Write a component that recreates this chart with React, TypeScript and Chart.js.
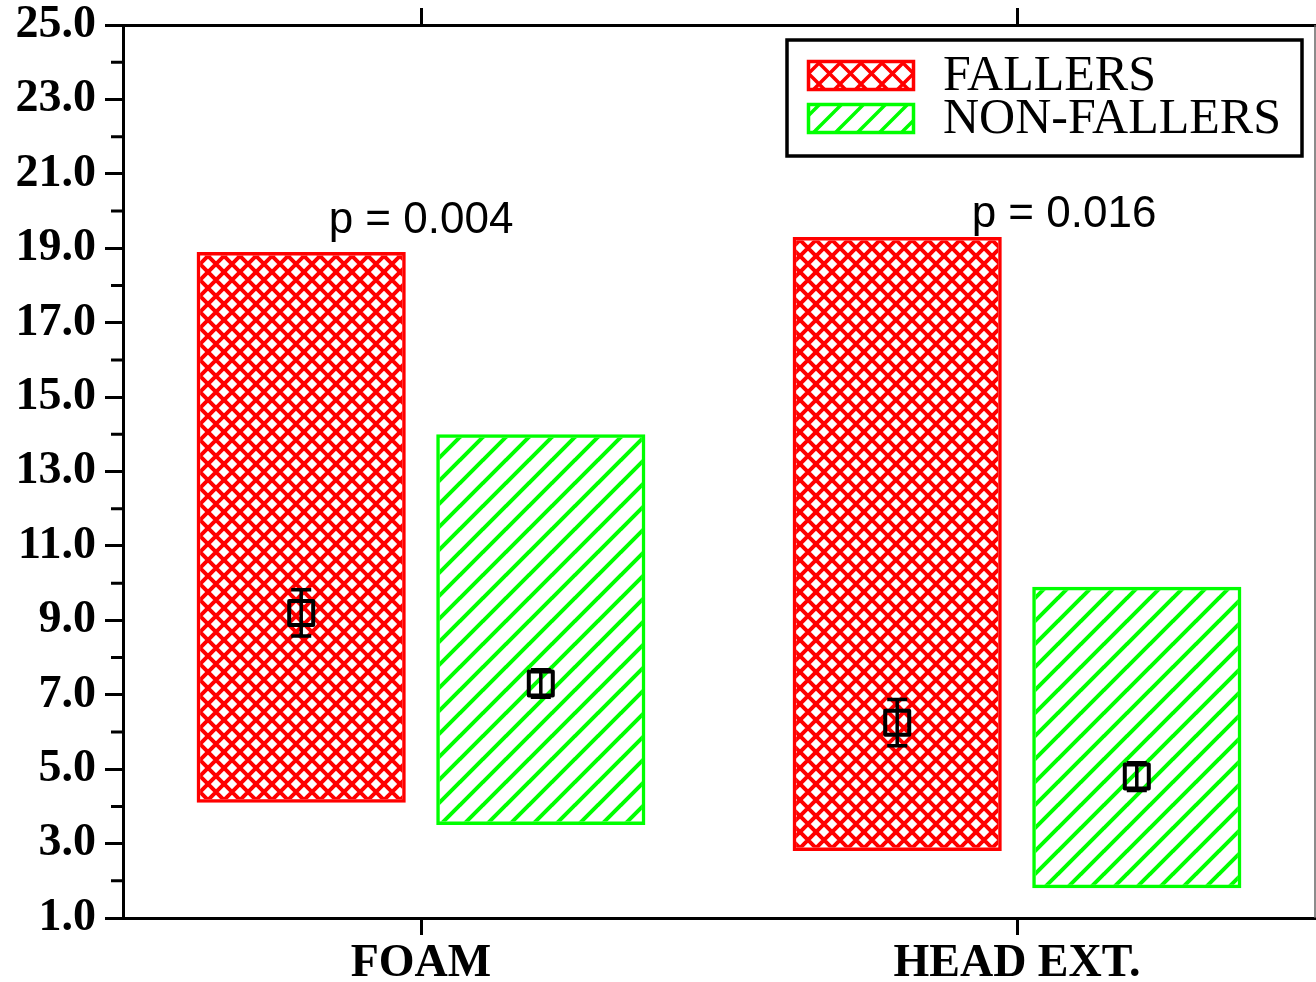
import React, { useEffect, useRef } from 'react';
import { Chart, registerables } from 'chart.js';

Chart.register(...registerables);

const categories = ['FOAM', 'HEAD EXT.'];
const seriesLabels = ['FALLERS', 'NON-FALLERS'];
const fallersMin = [4.1, 2.8];
const fallersMax = [18.9, 19.3];
const nonFallersMin = [3.5, 1.8];
const nonFallersMax = [14.0, 9.9];
const fallersMean = [9.2, 6.25];
const fallersErr = [0.62, 0.62];
const nonFallersMean = [7.3, 4.8];
const nonFallersErr = [0.37, 0.37];
const pLabels = ['p = 0.004', 'p = 0.016'];
const pLabelY = [19.74, 19.9];
const yMin = 1;
const yMax = 25;
const yStep = 2;

const RED = '#ff0000';
const GREEN = '#00ff00';

function crossPattern(s: number, color: string, lw: number) {
  const c = document.createElement('canvas');
  c.width = s;
  c.height = s;
  const g = c.getContext('2d')!;
  g.strokeStyle = color;
  g.lineWidth = lw;
  g.beginPath();
  for (const k of [-s, 0, s]) {
    g.moveTo(-1, -1 + k);
    g.lineTo(s + 1, s + 1 + k);
    g.moveTo(-1, s + 1 + k);
    g.lineTo(s + 1, -1 + k);
  }
  g.stroke();
  return g.createPattern(c, 'repeat')!;
}

function diagPattern(s: number, color: string, lw: number) {
  const c = document.createElement('canvas');
  c.width = s;
  c.height = s;
  const g = c.getContext('2d')!;
  g.strokeStyle = color;
  g.lineWidth = lw;
  g.beginPath();
  for (const k of [-s, 0, s]) {
    g.moveTo(-1, s + 1 + k);
    g.lineTo(s + 1, -1 + k);
  }
  g.stroke();
  return g.createPattern(c, 'repeat')!;
}

export default function App() {
  const ref = useRef<HTMLCanvasElement | null>(null);

  useEffect(() => {
    document.body.style.margin = '0';
    const canvas = ref.current!;
    const redPat = crossPattern(16, RED, 4);
    const greenPat = diagPattern(23, GREEN, 4);
    const redLegPat = crossPattern(21, RED, 3.5);
    const greenLegPat = diagPattern(22, GREEN, 3.5);

    const markerPlugin = {
      id: 'markers',
      afterDatasetsDraw(chart: any) {
        const ctx = chart.ctx;
        const ys = chart.scales.y;
        const sets: [number[], number[]][] = [
          [fallersMean, fallersErr],
          [nonFallersMean, nonFallersErr],
        ];
        sets.forEach(([means, errs], i) => {
          const meta = chart.getDatasetMeta(i);
          meta.data.forEach((bar: any, j: number) => {
            const x = bar.x;
            const ym = ys.getPixelForValue(means[j]);
            const yt = ys.getPixelForValue(means[j] + errs[j]);
            const yb = ys.getPixelForValue(means[j] - errs[j]);
            ctx.save();
            ctx.strokeStyle = '#000';
            ctx.lineWidth = 3.5;
            ctx.beginPath();
            ctx.moveTo(x, yt);
            ctx.lineTo(x, yb);
            ctx.moveTo(x - 10, yt);
            ctx.lineTo(x + 10, yt);
            ctx.moveTo(x - 10, yb);
            ctx.lineTo(x + 10, yb);
            ctx.stroke();
            ctx.lineWidth = 4;
            ctx.lineJoin = 'round';
            ctx.strokeRect(x - 12, ym - 12, 24, 24);
            ctx.restore();
          });
        });
      },
      afterDraw(chart: any) {
        const ctx = chart.ctx;
        const ys = chart.scales.y;
        const xs = chart.scales.x;
        const area = chart.chartArea;
        ctx.save();
        // minor ticks
        ctx.strokeStyle = '#000';
        ctx.lineWidth = 3;
        ctx.beginPath();
        for (let v = yMin + 1; v < yMax; v += yStep) {
          const py = ys.getPixelForValue(v);
          ctx.moveTo(area.left - 12, py);
          ctx.lineTo(area.left, py);
        }
        ctx.stroke();
        // right border
        ctx.strokeStyle = '#666';
        ctx.lineWidth = 1.5;
        ctx.beginPath();
        ctx.moveTo(area.right, area.top);
        ctx.lineTo(area.right, area.bottom);
        ctx.stroke();
        // p labels
        const dx = [0, 47];
        ctx.fillStyle = '#000';
        ctx.font = '44px "Liberation Sans", Arial, sans-serif';
        ctx.textAlign = 'center';
        ctx.textBaseline = 'middle';
        pLabels.forEach((t, j) => {
          ctx.fillText(t, xs.getPixelForValue(j) + dx[j], ys.getPixelForValue(pLabelY[j]));
        });
        // legend
        const bx = area.right - 528;
        const by = area.top + 15;
        const bw = 515;
        const bh = 116;
        ctx.strokeStyle = '#000';
        ctx.lineWidth = 3.5;
        ctx.strokeRect(bx, by, bw, bh);
        const pats = [redLegPat, greenLegPat];
        const cols = [RED, GREEN];
        const rows = [by + 20, by + 63];
        ctx.font = '50px "Liberation Serif", serif';
        ctx.textAlign = 'left';
        seriesLabels.forEach((lab, i) => {
          const sx = bx + 20;
          const sy = rows[i];
          ctx.fillStyle = pats[i];
          ctx.fillRect(sx, sy, 108, 31);
          ctx.strokeStyle = cols[i];
          ctx.lineWidth = 3.5;
          ctx.strokeRect(sx + 1.5, sy + 1.5, 105, 28);
          ctx.fillStyle = '#000';
          ctx.fillText(lab, bx + 156, sy + 17);
        });
        ctx.restore();
      },
    };

    const chart = new Chart(canvas, {
      type: 'bar',
      data: {
        labels: categories,
        datasets: [
          {
            label: seriesLabels[0],
            data: categories.map((_, i) => [fallersMin[i], fallersMax[i]]) as any,
            backgroundColor: redPat as any,
            borderColor: RED,
            borderWidth: 3.5,
            borderSkipped: false,
            categoryPercentage: 0.804,
            barPercentage: 0.873,
          },
          {
            label: seriesLabels[1],
            data: categories.map((_, i) => [nonFallersMin[i], nonFallersMax[i]]) as any,
            backgroundColor: greenPat as any,
            borderColor: GREEN,
            borderWidth: 3.5,
            borderSkipped: false,
            categoryPercentage: 0.804,
            barPercentage: 0.873,
          },
        ],
      },
      options: {
        animation: false,
        responsive: false,
        devicePixelRatio: 1,
        layout: { padding: { left: 0, right: 1, top: 0, bottom: 0 } },
        plugins: {
          legend: { display: false },
          tooltip: { enabled: false },
        },
        scales: {
          x: {
            type: 'category',
            position: 'bottom',
            offset: true,
            grid: {
              offset: false,
              drawOnChartArea: false,
              tickLength: 17,
              tickWidth: 3,
              tickColor: '#000',
            },
            border: { display: true, color: '#000', width: 3 },
            ticks: {
              color: '#000',
              font: { family: '"Liberation Serif", serif', size: 46, weight: 'bold' },
              padding: 2,
            },
            afterFit(scale: any) {
              scale.height = 64;
              scale.paddingLeft = 0;
              scale.paddingRight = 0;
            },
          },
          x2: {
            type: 'category',
            position: 'top',
            offset: true,
            display: true,
            labels: categories,
            grid: {
              offset: false,
              drawOnChartArea: false,
              tickLength: 17,
              tickWidth: 3,
              tickColor: '#000',
            },
            border: { display: true, color: '#000', width: 3 },
            ticks: { display: false },
            afterFit(scale: any) {
              scale.height = 25;
              scale.paddingLeft = 0;
              scale.paddingRight = 0;
            },
          },
          y: {
            min: yMin,
            max: yMax,
            grid: {
              drawOnChartArea: false,
              tickLength: 18,
              tickWidth: 3,
              tickColor: '#000',
            },
            border: { display: true, color: '#000', width: 3 },
            ticks: {
              stepSize: yStep,
              color: '#000',
              padding: 9,
              font: { family: '"Liberation Serif", serif', size: 46, weight: 'bold' },
              callback: (v: any) => Number(v).toFixed(1),
            },
            afterFit(scale: any) {
              scale.width = 123;
              scale.paddingTop = 0;
              scale.paddingBottom = 0;
            },
          },
        },
      },
      plugins: [markerPlugin],
    });
    return () => chart.destroy();
  }, []);

  return (
    <div style={{ width: 1316, height: 982 }}>
      <canvas ref={ref} width={1316} height={982} style={{ display: 'block' }} />
    </div>
  );
}
